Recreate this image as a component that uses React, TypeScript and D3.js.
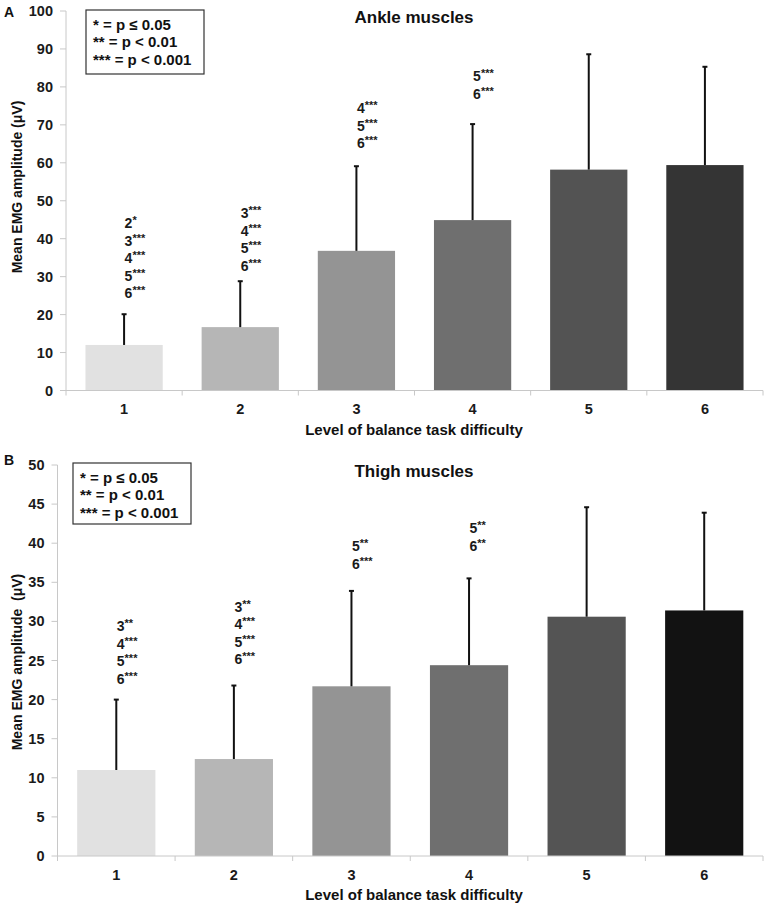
import React from "react";
import * as d3 from "d3";

const levels = ["1", "2", "3", "4", "5", "6"];

const ankleMeans = [12.0, 16.7, 36.8, 44.9, 58.2, 59.4];
const ankleSD = [8.1, 12.1, 22.3, 25.3, 30.4, 25.9];
const ankleColors = ["#e1e1e1", "#b6b6b6", "#949494", "#6f6f6f", "#535353", "#343434"];
const ankleSig = [
  ["2*", "3***", "4***", "5***", "6***"],
  ["3***", "4***", "5***", "6***"],
  ["4***", "5***", "6***"],
  ["5***", "6***"],
  [],
  [],
];
const ankleSigY = [44.1, 46.7, 74.4, 82.8, 0, 0];
const ankleTicks = [0, 10, 20, 30, 40, 50, 60, 70, 80, 90, 100];

const thighMeans = [11.0, 12.4, 21.7, 24.4, 30.6, 31.4];
const thighSD = [9.0, 9.4, 12.2, 11.1, 14.0, 12.5];
const thighColors = ["#e1e1e1", "#b6b6b6", "#949494", "#6f6f6f", "#545454", "#121212"];
const thighSig = [
  ["3**", "4***", "5***", "6***"],
  ["3**", "4***", "5***", "6***"],
  ["5**", "6***"],
  ["5**", "6**"],
  [],
  [],
];
const thighSigY = [29.4, 31.9, 39.6, 41.9, 0, 0];
const thighTicks = [0, 5, 10, 15, 20, 25, 30, 35, 40, 45, 50];

const legendLines = ["* = p \u2264 0.05", "** = p < 0.01", "*** = p < 0.001"];

const FONT = "'Liberation Sans', Arial, sans-serif";

type PanelProps = {
  label: string;
  title: string;
  yLabel: string;
  means: number[];
  sds: number[];
  colors: string[];
  sig: string[][];
  sigY: number[];
  ticks: number[];
  yMax: number;
  x0: number;
  x1: number;
  yTop: number;
  yBottom: number;
  labelPos: [number, number];
  legendBox: [number, number, number, number];
  titleY: number;
  yLabelY: number;
};

function Panel(p: PanelProps) {
  const x = d3.scaleBand<string>().domain(levels).range([p.x0, p.x1]).paddingInner(0.335).paddingOuter(0.1675);
  const y = d3.scaleLinear().domain([0, p.yMax]).range([p.yBottom, p.yTop]);
  const step = x.step();
  const bw = x.bandwidth();
  const [lx, ly, lw, lh] = p.legendBox;
  const midX = 414;
  return (
    <g fontFamily={FONT} fontWeight="bold">
      <text x={p.labelPos[0]} y={p.labelPos[1]} fontSize={14} dominantBaseline="central" fill="#111">
        {p.label}
      </text>
      <text x={midX} y={p.titleY} fontSize={17} textAnchor="middle" dominantBaseline="central" fill="#111">
        {p.title}
      </text>
      {/* y axis */}
      <line x1={p.x0} x2={p.x0} y1={y(p.yMax)} y2={y(0)} stroke="#c8c8c8" strokeWidth={1} />
      {p.ticks.map((t) => (
        <g key={t}>
          <line x1={p.x0 - 6} x2={p.x0} y1={y(t)} y2={y(t)} stroke="#c8c8c8" strokeWidth={1} />
          <text x={p.x0 - 13} y={y(t)} fontSize={14.5} textAnchor="end" dominantBaseline="central" fill="#1a1a1a">
            {t}
          </text>
        </g>
      ))}
      <text
        transform={`translate(17,${p.yLabelY}) rotate(-90)`}
        fontSize={14}
        textAnchor="middle"
        dominantBaseline="central"
        fill="#111"
        style={{ whiteSpace: "pre" }}
      >
        {p.yLabel}
      </text>
      {/* bars */}
      {levels.map((lv, i) => {
        const bx = x(lv) as number;
        const cx = bx + bw / 2;
        const top = y(p.means[i] + p.sds[i]);
        return (
          <g key={lv}>
            <rect x={bx} y={y(p.means[i])} width={bw} height={y(0) - y(p.means[i])} fill={p.colors[i]} />
            <line x1={cx} x2={cx} y1={y(p.means[i])} y2={top} stroke="#111" strokeWidth={2} />
            <line x1={cx - 2.5} x2={cx + 2.5} y1={top} y2={top} stroke="#111" strokeWidth={2} />
            {p.sig[i].map((s, j) => {
              const m = s.match(/^(\d)(\*+)$/);
              const num = m ? m[1] : s;
              const stars = m ? m[2] : "";
              return (
                <text
                  key={j}
                  x={cx + 0.5}
                  y={y(p.sigY[i]) + j * 17.5}
                  fontSize={14}
                  dominantBaseline="central"
                  fill="#1a1a1a"
                >
                  {num}
                  <tspan fontSize={11} dy={-3}>
                    {stars}
                  </tspan>
                </text>
              );
            })}
          </g>
        );
      })}
      {/* x axis */}
      <line x1={p.x0} x2={p.x1} y1={y(0)} y2={y(0)} stroke="#c8c8c8" strokeWidth={1} />
      {d3.range(levels.length + 1).map((k) => (
        <line
          key={k}
          x1={p.x0 + k * step}
          x2={p.x0 + k * step}
          y1={y(0)}
          y2={y(0) + 5}
          stroke="#c8c8c8"
          strokeWidth={1}
        />
      ))}
      {levels.map((lv) => (
        <text
          key={lv}
          x={(x(lv) as number) + bw / 2}
          y={y(0) + 18.5}
          fontSize={14.5}
          textAnchor="middle"
          dominantBaseline="central"
          fill="#1a1a1a"
        >
          {lv}
        </text>
      ))}
      <text x={midX} y={y(0) + 38.5} fontSize={15} textAnchor="middle" dominantBaseline="central" fill="#111">
        Level of balance task difficulty
      </text>
      {/* legend */}
      <rect x={lx} y={ly} width={lw} height={lh} fill="#fff" stroke="#333" strokeWidth={1.2} />
      {legendLines.map((t, i) => (
        <text key={i} x={lx + 7} y={ly + 14 + i * 17.5} fontSize={15} dominantBaseline="central" fill="#111">
          {t}
        </text>
      ))}
    </g>
  );
}

export default function App() {
  return (
    <svg
      width={770}
      height={909}
      style={{ position: "absolute", left: 0, top: 0, background: "#fff" }}
    >
      <rect width={770} height={909} fill="#fff" />
      <Panel
        label="A"
        title="Ankle muscles"
        yLabel={"Mean EMG amplitude (\u03bcV)"}
        means={ankleMeans}
        sds={ankleSD}
        colors={ankleColors}
        sig={ankleSig}
        sigY={ankleSigY}
        ticks={ankleTicks}
        yMax={100}
        x0={66}
        x1={763}
        yTop={11}
        yBottom={390.5}
        labelPos={[4, 12]}
        legendBox={[86, 10, 118, 64]}
        titleY={17}
        yLabelY={187}
      />
      <Panel
        label="B"
        title="Thigh muscles"
        yLabel={"Mean EMG amplitude  (\u03bcV)"}
        means={thighMeans}
        sds={thighSD}
        colors={thighColors}
        sig={thighSig}
        sigY={thighSigY}
        ticks={thighTicks}
        yMax={50}
        x0={57.5}
        x1={763}
        yTop={465}
        yBottom={856}
        labelPos={[4, 460]}
        legendBox={[73, 463, 118, 61]}
        titleY={471}
        yLabelY={662}
      />
    </svg>
  );
}
